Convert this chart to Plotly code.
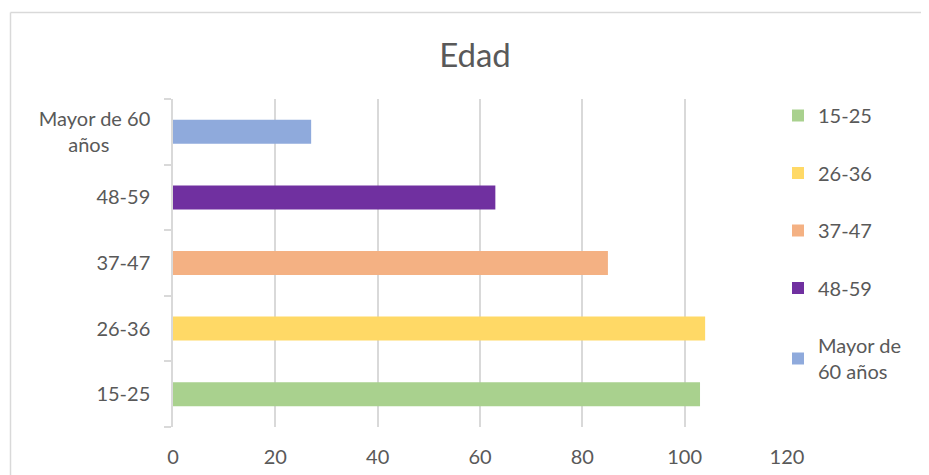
import plotly.graph_objects as go

categories = ["15-25", "26-36", "37-47", "48-59", "Mayor de 60 años"]
tick_text = ["15-25", "26-36", "37-47", "48-59",
             "Mayor de 60<br>años" + "\u00a0" * 8]
legend_names = ["15-25", "26-36", "37-47", "48-59", "Mayor de<br>60 años"]
values = [103, 104, 85, 63, 27]
colors = ["#A9D18E", "#FFD966", "#F4B183", "#7030A0", "#8FAADC"]

OFF = 8  # page body margin
W, H = 929 - OFF, 475 - OFF
L, T = 173 - OFF, 99 - OFF
R = W - (787 - OFF)
B = H - (427 - OFF)
pw, ph = W - L - R, H - T - B

FONT = "Lato"
TXT = "#595959"
GRID = "#D9D9D9"

fig = go.Figure()
for i, (c, v, col, nm) in enumerate(zip(categories, values, colors, legend_names)):
    fig.add_trace(go.Bar(
        y=[c], x=[v], orientation="h", name=nm,
        marker=dict(color=col, line=dict(width=0)),
        width=0.366, legendgroup=f"g{i}", showlegend=True,
    ))

def px_x(p):
    return (p - OFF - L) / pw

def px_y(p):
    return (H - B - (p - OFF)) / ph

fig.update_layout(
    width=W, height=H,
    margin=dict(l=L, r=R, t=T, b=B, autoexpand=False),
    paper_bgcolor="white", plot_bgcolor="white",
    barmode="overlay",
    font=dict(family=FONT, size=20, color=TXT),
    title=dict(text="Edad", x=(475 - OFF) / W, xanchor="center",
               y=1 - (55 - OFF) / H, yanchor="middle",
               font=dict(family=FONT, size=33, color=TXT)),
    legend=dict(x=px_x(778), xanchor="left", y=px_y(96), yanchor="top",
                traceorder="grouped", tracegroupgap=28.5, maxheight=2000,
                font=dict(family=FONT, size=20, color=TXT),
                bgcolor="rgba(0,0,0,0)", itemclick=False),
    xaxis=dict(range=[0, 120], tickvals=[0, 20, 40, 60, 80, 100, 120],
               showgrid=True, gridcolor=GRID, gridwidth=1.5,
               zeroline=False, showline=False, ticks="",
               ticklabelstandoff=16, automargin=False,
               tickfont=dict(family=FONT, size=20, color=TXT)),
    yaxis=dict(type="category", categoryorder="array", categoryarray=categories,
               tickvals=categories, ticktext=tick_text,
               showgrid=False, zeroline=False,
               showline=True, linecolor=GRID, linewidth=1.5,
               ticks="outside", ticklen=7, tickcolor=GRID, tickwidth=1.5,
               tickson="boundaries", ticklabelstandoff=17, automargin=False,
               tickfont=dict(family=FONT, size=20, color=TXT)),
    shapes=[
        dict(type="line", xref="paper", yref="paper",
             x0=px_x(10.5), x1=px_x(940), y0=px_y(12.5), y1=px_y(12.5),
             line=dict(color=GRID, width=1.5)),
        dict(type="line", xref="paper", yref="paper",
             x0=px_x(10.5), x1=px_x(10.5), y0=px_y(12.5), y1=px_y(490),
             line=dict(color=GRID, width=1.5)),
    ],
)

fig.write_html("out.html")
